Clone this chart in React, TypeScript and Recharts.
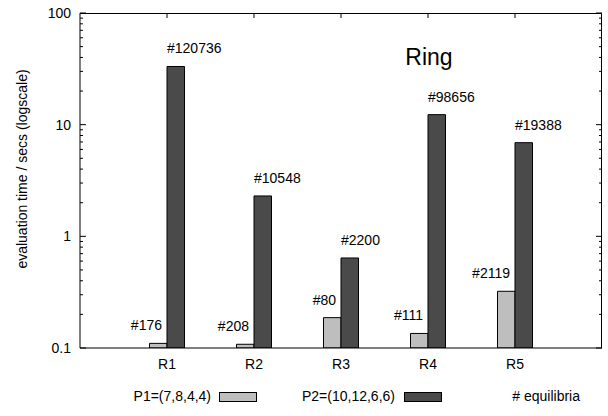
import { BarChart, Bar, XAxis, YAxis, LabelList, ReferenceLine } from 'recharts';

// values (seconds, log scale)
const categories = ['R1', 'R2', 'R3', 'R4', 'R5'];
const p1Times = [0.11, 0.108, 0.187, 0.135, 0.322];
const p2Times = [33.2, 2.3, 0.64, 12.3, 6.9];
const p1Equilibria = [176, 208, 80, 111, 2119];
const p2Equilibria = [120736, 10548, 2200, 98656, 19388];

const seriesNames = ['P1=(7,8,4,4)', 'P2=(10,12,6,6)'];
const equilibriaName = '# equilibria';
const title = 'Ring';
const yLabel = 'evaluation time / secs (logscale)';

const majorTicks = [0.1, 1, 10, 100];
const yTicks = [
  0.1, 0.2, 0.3, 0.4, 0.5, 0.6, 0.7, 0.8, 0.9,
  1, 2, 3, 4, 5, 6, 7, 8, 9,
  10, 20, 30, 40, 50, 60, 70, 80, 90,
  100,
];

const LIGHT = '#bebebe';
const DARK = '#4a4a4a';
const FONT = '"Liberation Sans", Arial, Helvetica, sans-serif';

// plot box layout (shared by the chart margins and the frame overlay)
const W = 608;
const H = 416;
const PLOT_TOP = 13;
const PLOT_RIGHT = 602;
const PLOT_BOTTOM = 348;

const data = categories.map((name, i) => ({
  name,
  p1: p1Times[i],
  p2: p2Times[i],
  p1Eq: p1Equilibria[i],
  p2Eq: p2Equilibria[i],
}));

const LeftTick = ({ x, y, payload }: any) => {
  const major = majorTicks.includes(payload.value);
  return (
    <g>
      <line x1={x} x2={x + (major ? 6 : 3)} y1={y} y2={y} stroke="#000" />
      {major && (
        <text x={x - 9} y={y} dy={5} textAnchor="end" fontSize={14} fontFamily={FONT} fill="#000">
          {payload.value}
        </text>
      )}
    </g>
  );
};

const BottomTick = ({ x, y, payload }: any) => (
  <text x={x} y={y + 21} textAnchor="middle" fontSize={14} fontFamily={FONT} fill="#000">
    {payload.value}
  </text>
);

// mirror tick on the right border, drawn from a horizontal reference line
const RightTickShape = (props: any) => {
  const { x1, x2, y1, major } = props;
  const right = Math.max(x1, x2);
  return <line x1={right} x2={right - (major ? 6 : 3)} y1={y1} y2={y1} stroke="#000" />;
};

// short tick hanging down from the top border
const TopTickShape = (props: any) => {
  const { x1, y1, y2 } = props;
  const top = Math.min(y1, y2);
  return <line x1={x1} x2={x1} y1={top} y2={top + 5} stroke="#000" />;
};

const P1Label = (props: any) => {
  const { x, y, width, value } = props;
  return (
    <text x={x + width - 5} y={y - 13} textAnchor="end" fontSize={14} fontFamily={FONT} fill="#000">
      #{value}
    </text>
  );
};

const P2Label = (props: any) => {
  const { x, y, value } = props;
  return (
    <text x={x} y={y - 13} textAnchor="start" fontSize={14} fontFamily={FONT} fill="#000">
      #{value}
    </text>
  );
};

const App = () => {
  return (
    <div style={{ position: 'absolute', left: 0, top: 0, width: W, height: H, background: '#fff' }}>
      <BarChart
        width={W}
        height={H}
        data={data}
        margin={{ top: PLOT_TOP, right: W - PLOT_RIGHT, left: 0, bottom: H - PLOT_BOTTOM - 30 }}
        barSize={17.5}
        barGap={0}
      >
        <XAxis
          xAxisId="bottom"
          dataKey="name"
          height={30}
          padding={{ left: 43.5, right: 43.5 }}
          axisLine={{ stroke: '#000' }}
          tickLine={false}
          tickSize={0}
          tickMargin={0}
          tick={<BottomTick />}
          interval={0}
        />
        <YAxis
          yAxisId="left"
          width={80}
          scale="log"
          domain={[0.1, 100]}
          ticks={yTicks}
          interval={0}
          allowDataOverflow
          axisLine={{ stroke: '#000' }}
          tickLine={false}
          tickSize={0}
          tickMargin={0}
          tick={<LeftTick />}
          label={{
            content: () => (
              <text
                x={22}
                y={169}
                transform="rotate(-90 22 169)"
                textAnchor="middle"
                dominantBaseline="central"
                fontSize={14}
                fontFamily={FONT}
                fill="#000"
              >
                {yLabel}
              </text>
            ),
          }}
        />
        {yTicks.map((v) => (
          <ReferenceLine
            key={v}
            xAxisId="bottom"
            yAxisId="left"
            y={v}
            ifOverflow="visible"
            shape={<RightTickShape major={majorTicks.includes(v)} />}
          />
        ))}
        {categories.map((c) => (
          <ReferenceLine key={c} xAxisId="bottom" yAxisId="left" x={c} ifOverflow="visible" shape={<TopTickShape />} />
        ))}
        <Bar xAxisId="bottom" yAxisId="left" dataKey="p1" name={seriesNames[0]} fill={LIGHT} stroke="#000" strokeWidth={1} isAnimationActive={false}>
          <LabelList dataKey="p1Eq" content={<P1Label />} />
        </Bar>
        <Bar xAxisId="bottom" yAxisId="left" dataKey="p2" name={seriesNames[1]} fill={DARK} stroke="#000" strokeWidth={1} isAnimationActive={false}>
          <LabelList dataKey="p2Eq" content={<P2Label />} />
        </Bar>
      </BarChart>

      <div style={{ position: 'absolute', left: 0, top: 0, width: W, height: H, pointerEvents: 'none' }}>
        <svg width={W} height={H}>
          {/* top and right border of the plot frame */}
          <path
            d={`M80,${PLOT_TOP + 0.5}H${PLOT_RIGHT - 0.5}V${PLOT_BOTTOM}`}
            fill="none"
            stroke="#000"
          />
          <text x={429} y={65} textAnchor="middle" fontSize={23} fontFamily={FONT} fill="#000">
            {title}
          </text>
          <text x={211} y={401} textAnchor="end" fontSize={14} fontFamily={FONT} fill="#000">
            {seriesNames[0]}
          </text>
          <rect x={219.5} y={392.5} width={37} height={9} fill={LIGHT} stroke="#000" />
          <text x={395} y={401} textAnchor="end" fontSize={14} fontFamily={FONT} fill="#000">
            {seriesNames[1]}
          </text>
          <rect x={404.5} y={392.5} width={37} height={9} fill={DARK} stroke="#000" />
          <text x={580} y={401} textAnchor="end" fontSize={14} fontFamily={FONT} fill="#000">
            {equilibriaName}
          </text>
        </svg>
      </div>
    </div>
  );
};

export default App;
